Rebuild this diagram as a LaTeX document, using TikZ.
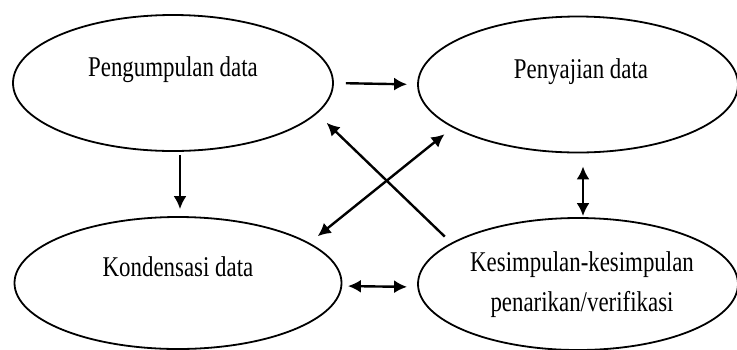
\documentclass[tikz,border=0pt]{standalone}
\usepackage{fontspec}
\setmainfont[FakeStretch=0.8]{Liberation Serif}
\usetikzlibrary{arrows.meta,shapes,positioning}

\begin{document}
\begin{tikzpicture}[x=0.5pt, y=-0.5pt]
  \tikzset{EllipseStyle/.style = {shape          = ellipse,
                                  draw           = black,
                                  line width     = 0.9pt,
                                  inner sep      = 0pt,
                                  minimum width  = 160pt,
                                  minimum height = 68pt},
           TextStyle/.style    = {font = \fontsize{14.3}{20}\selectfont,
                                  align = center, inner sep = 0pt},
           ArrowStyle/.style   = {line width = 1.2pt, -{Latex[length=6.5pt, width=6.5pt]}},
           BothStyle/.style    = {line width = 1.2pt, {Latex[length=6.5pt, width=6.5pt]}-{Latex[length=6.5pt, width=6.5pt]}}}
  \useasboundingbox (0,0) rectangle (737,349);
  \clip (0,0) rectangle (737,349);
	%%% ELLIPSES %%%
	\node[EllipseStyle](e1) at (173,83){};
	\node[EllipseStyle](e2) at (578,84.5){};
	\node[EllipseStyle, minimum width=163.5pt, minimum height=66pt](e3) at (178,283){};
	\node[EllipseStyle, minimum height=66pt](e4) at (578,284){};
	%%% TEXTS %%%
	\node[TextStyle](t1) at ([yshift=6.5pt]e1.center){Pengumpulan data};
	\node[TextStyle](t2) at ([xshift=1.5pt, yshift=6.5pt]e2.center){Penyajian data};
	\node[TextStyle](t3) at ([yshift=8pt]e3.center){Kondensasi data};
	\node[TextStyle](t4) at ([xshift=2pt, yshift=-0.5pt]e4.center){Kesimpulan-kesimpulan\\penarikan/verifikasi};
	%%% ARROWS %%%
	\draw[ArrowStyle, shorten <=6pt, shorten >=5pt] (e1.east) to (e2.west);
	\draw[ArrowStyle, shorten <=1.5pt, shorten >=3.5pt] ([xshift=3.5pt]e1.south) to ([xshift=1pt]e3.north);
	\draw[ArrowStyle, shorten <=4.5pt, shorten >=6.6pt] (e4.162) to (e1.348);
	\draw[BothStyle, shorten <=5.3pt, shorten >=5.2pt] (e3.17) to (e2.199.5);
	\draw[BothStyle, shorten <=6.5pt, shorten >=0.5pt] ([xshift=2.5pt]e2.south) to ([xshift=2.5pt]e4.north);
	\draw[BothStyle, shorten <=2.75pt, shorten >=5pt] ([yshift=-1.5pt]e3.east) to ([yshift=-1.5pt]e4.west);
\end{tikzpicture}
\end{document}
